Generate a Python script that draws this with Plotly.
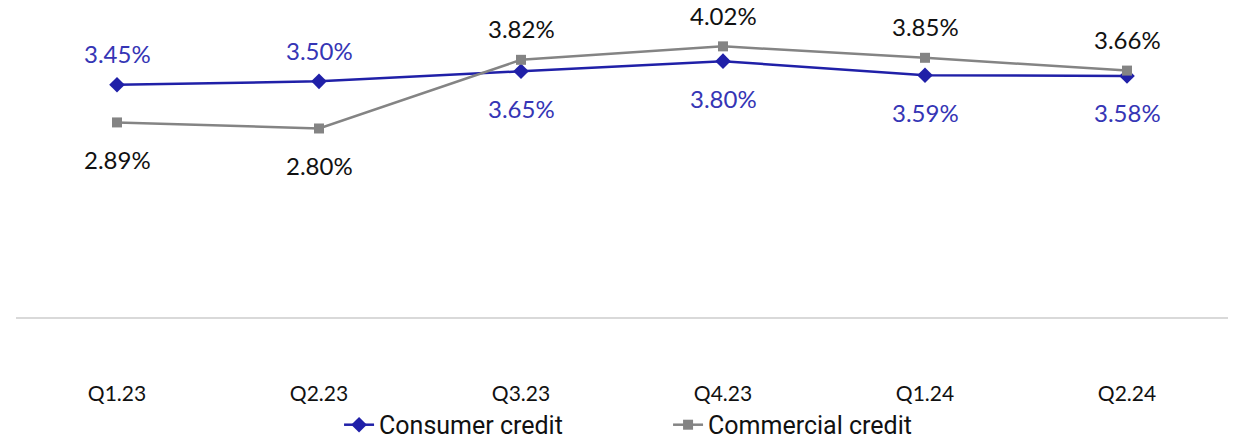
"""Consumer vs commercial credit rate chart."""

import plotly.graph_objects as go

quarters = ["Q1.23", "Q2.23", "Q3.23", "Q4.23", "Q1.24", "Q2.24"]
consumer = [3.45, 3.50, 3.65, 3.80, 3.59, 3.58]
commercial = [2.89, 2.80, 3.82, 4.02, 3.85, 3.66]

# which side of the marker each label sits on
consumer_side = ["above", "above", "below", "below", "below", "below"]
commercial_side = ["below", "below", "above", "above", "above", "above"]

BLUE = "#2020A8"
BLUE_TEXT = "#3535B5"
GREY = "#848484"
LABEL_FONT = "Lato"

fig = go.Figure()
fig.add_trace(
    go.Scatter(
        x=quarters,
        y=consumer,
        name="Consumer credit",
        mode="lines+markers",
        line={"color": BLUE, "width": 2.5},
        marker={"symbol": "diamond", "size": 12, "color": BLUE},
    )
)
fig.add_trace(
    go.Scatter(
        x=quarters,
        y=commercial,
        name="Commercial credit",
        mode="lines+markers",
        line={"color": GREY, "width": 2.5},
        marker={"symbol": "square", "size": 10, "color": GREY},
    )
)

for values, sides, color in [
    (consumer, consumer_side, BLUE_TEXT),
    (commercial, commercial_side, "#111111"),
]:
    for q, v, side in zip(quarters, values, sides):
        fig.add_annotation(
            x=q,
            y=v,
            text=f"{v:.2f}%",
            showarrow=False,
            yshift=31 if side == "above" else -37,
            font={"family": LABEL_FONT, "size": 24, "color": color},
        )

fig.update_layout(
    width=1240,
    height=439,
    paper_bgcolor="white",
    plot_bgcolor="white",
    # keep the plot area fixed even though the legend box spills past the edge
    margin={"l": 16, "r": 12, "t": 10, "b": 122, "autoexpand": False},
    showlegend=True,
    legend={
        "orientation": "h",
        "x": 0.538,
        "xanchor": "center",
        "y": 0.032,
        "yref": "container",
        "yanchor": "middle",
        "bgcolor": "rgba(0,0,0,0)",
        "font": {"family": "Roboto", "size": 25, "color": "#111111"},
        "entrywidth": 284,
        "entrywidthmode": "pixels",
        "tracegroupgap": 0,
    },
    xaxis={
        "range": [-0.5, 5.5],
        "automargin": False,
        "showgrid": False,
        "showline": True,
        "linecolor": "#D9D9D9",
        "linewidth": 2,
        "ticks": "",
        "ticklabelstandoff": 57,
        "tickfont": {"family": LABEL_FONT, "size": 21, "color": "#111111"},
        "fixedrange": True,
    },
    yaxis={
        "range": [0, 4.56],
        "automargin": False,
        "visible": False,
        "showgrid": False,
        "zeroline": False,
    },
)

fig.write_html(
    "out.html",
    config={"displayModeBar": False},
    post_script="document.body.style.margin='0';",
)
